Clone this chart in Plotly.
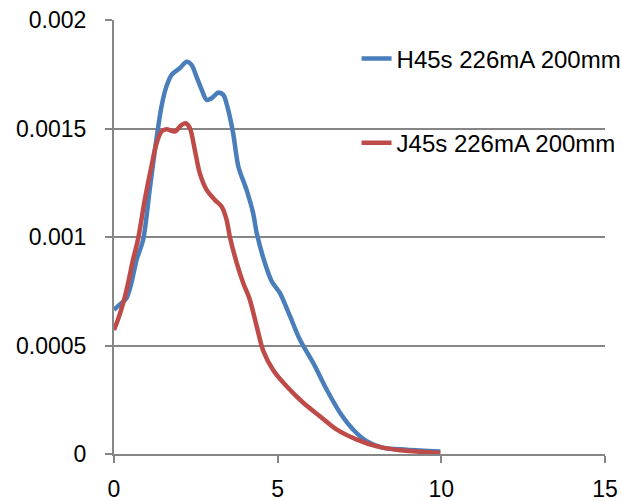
import plotly.graph_objects as go

# Series H45s 226mA 200mm
h_x = [0.00, 0.17, 0.38, 0.53, 0.69, 0.89, 1.09, 1.25, 1.45, 1.60, 1.76, 2.01, 2.22, 2.37,
       2.52, 2.68, 2.83, 2.98, 3.18, 3.34, 3.49, 3.64, 3.80, 4.05, 4.25, 4.36, 4.61, 4.82,
       5.07, 5.38, 5.68, 6.09, 6.50, 6.91, 7.31, 7.73, 8.23, 8.95, 9.97]
h_y = [0.000665, 0.000688, 0.000718, 0.000787, 0.000895, 0.000987, 0.001217, 0.001401,
       0.001601, 0.001693, 0.001747, 0.001778, 0.001808, 0.001793, 0.001739, 0.001678,
       0.001632, 0.001639, 0.001665, 0.001655, 0.001585, 0.001478, 0.001324, 0.001217,
       0.001110, 0.001018, 0.000880, 0.000795, 0.000741, 0.000634, 0.000526, 0.000419,
       0.000296, 0.000189, 0.000112, 0.000058, 0.000028, 0.000020, 0.000012]

# Series J45s 226mA 200mm
j_x = [0.00, 0.12, 0.28, 0.43, 0.58, 0.73, 0.94, 1.14, 1.30, 1.45, 1.60, 1.86, 2.06, 2.19,
       2.32, 2.47, 2.62, 2.83, 3.08, 3.29, 3.44, 3.54, 3.75, 3.95, 4.15, 4.36, 4.56, 4.87,
       5.28, 5.79, 6.30, 6.81, 7.42, 8.03, 8.75, 9.97]
j_y = [0.000572, 0.000619, 0.000695, 0.000787, 0.000895, 0.000987, 0.001171, 0.001324,
       0.001432, 0.001486, 0.001497, 0.001486, 0.001516, 0.001524, 0.001501, 0.001401,
       0.001294, 0.001217, 0.001171, 0.001140, 0.001079, 0.001000, 0.000880, 0.000787,
       0.000711, 0.000588, 0.000475, 0.000385, 0.000311, 0.000235, 0.000173, 0.000112,
       0.000066, 0.000035, 0.000017, 0.000005]

series_names = ["H45s 226mA 200mm", "J45s 226mA 200mm"]
series_colors = ["#4A7EBB", "#BE4B48"]

x_tick_vals = [0, 5, 10, 15]
x_tick_text = ["0", "5", "10", "15"]
y_tick_vals = [0, 0.0005, 0.001, 0.0015, 0.002]
y_tick_text = ["0", "0.0005", "0.001", "0.0015", "0.002"]

FONT = "Liberation Sans"
AX = "#868686"

fig = go.Figure()
for xs, ys, name, col in [(h_x, h_y, series_names[0], series_colors[0]),
                          (j_x, j_y, series_names[1], series_colors[1])]:
    fig.add_trace(go.Scatter(x=xs, y=ys, mode="lines", name=name, legendgroup=name,
                             line=dict(color=col, width=4.5, shape="spline", smoothing=0.8)))

fig.update_layout(
    width=622, height=501,
    margin=dict(l=114, r=17, t=20, b=47, autoexpand=False),
    paper_bgcolor="white", plot_bgcolor="white",
    font=dict(family=FONT, size=23, color="#000000"),
    showlegend=True,
    legend=dict(x=0.494, y=0.962, xanchor="left", yanchor="top",
                bgcolor="rgba(0,0,0,0)", traceorder="grouped", tracegroupgap=50,
                font=dict(family=FONT, size=24, color="#000000")),
    xaxis=dict(range=[0, 15], tickvals=x_tick_vals, ticktext=x_tick_text, automargin=False,
               showgrid=False, zeroline=False, showline=True, linecolor=AX, linewidth=2,
               ticks="outside", ticklen=7, tickwidth=2, tickcolor=AX,
               ticklabelstandoff=6),
    yaxis=dict(range=[0, 0.002], tickvals=y_tick_vals, ticktext=y_tick_text, automargin=False,
               showgrid=True, gridcolor=AX, gridwidth=1.5, zeroline=False,
               showline=True, linecolor=AX, linewidth=2,
               ticks="outside", ticklen=7, tickwidth=2, tickcolor=AX,
               ticklabelstandoff=14),
)

fig.write_html("out.html")
